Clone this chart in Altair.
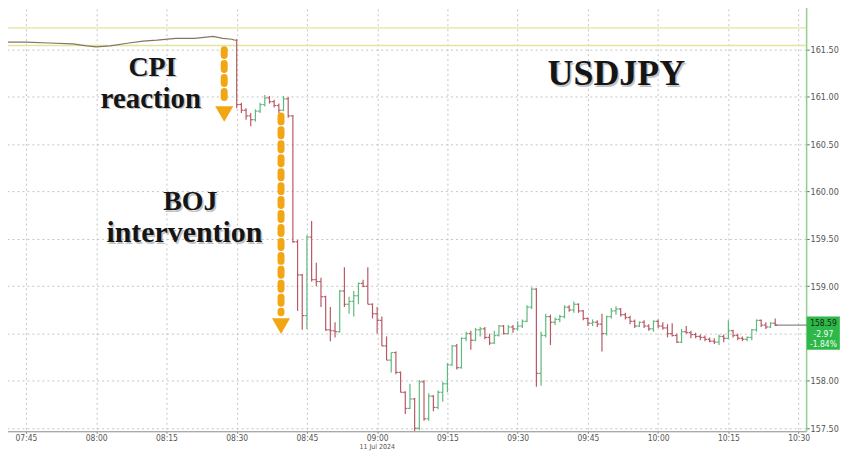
import altair as alt
import pandas as pd
import numpy as np

# ---------------- data ----------------
pre_times = ["07:40:06", "07:45", "07:50", "07:55", "07:58", "08:00", "08:03", "08:07", "08:10",
             "08:13", "08:17", "08:21", "08:25", "08:27", "08:29", "08:29:30"]
pre_prices = [161.58, 161.58, 161.57, 161.56, 161.54, 161.53, 161.54, 161.57, 161.59,
              161.60, 161.62, 161.62, 161.64, 161.62, 161.61, 161.60]

opens = [161.60, 160.92, 160.86, 160.80, 160.76, 160.85, 160.92, 160.99, 160.95, 160.91,
         160.86, 160.98, 160.80, 159.47, 159.12, 158.69, 159.52, 159.07, 159.05, 158.89,
         158.54, 158.53, 158.52, 158.95, 158.81, 158.84, 158.90, 159.03, 159.00, 158.81,
         158.71, 158.64, 158.37, 158.22, 158.30, 158.09, 157.88, 157.71, 157.81, 157.50,
         157.99, 157.60, 157.84, 157.72, 157.88, 157.97, 158.17, 158.37, 158.14, 158.45,
         158.50, 158.43, 158.54, 158.55, 158.46, 158.40, 158.48, 158.58, 158.50, 158.57,
         158.55, 158.58, 158.63, 158.78, 158.97, 158.08, 158.48, 158.68, 158.62, 158.65,
         158.68, 158.78, 158.75, 158.81, 158.74, 158.66, 158.61, 158.62, 158.60, 158.50,
         158.68, 158.74, 158.76, 158.70, 158.67, 158.63, 158.58, 158.62, 158.58, 158.55,
         158.63, 158.58, 158.56, 158.50, 158.48, 158.41, 158.52, 158.51, 158.49, 158.47,
         158.46, 158.44, 158.42, 158.41, 158.47, 158.45, 158.53, 158.48, 158.45, 158.44,
         158.46, 158.54, 158.64, 158.59, 158.57, 158.61]
highs = [161.61, 160.94, 160.88, 160.83, 160.87, 160.94, 161.02, 161.01, 160.97, 160.93,
         161.01, 161.00, 160.81, 159.49, 159.13, 159.54, 159.69, 159.25, 159.09, 158.90,
         158.78, 158.62, 158.96, 159.20, 158.89, 158.95, 159.04, 159.07, 159.20, 158.82,
         158.78, 158.68, 158.47, 158.30, 158.31, 158.10, 157.89, 157.97, 157.82, 158.01,
         158.01, 157.87, 157.85, 157.90, 157.99, 158.19, 158.38, 158.39, 158.46, 158.52,
         158.53, 158.56, 158.57, 158.57, 158.50, 158.53, 158.59, 158.59, 158.59, 158.59,
         158.63, 158.65, 158.80, 158.99, 158.98, 158.52, 158.71, 158.70, 158.67, 158.70,
         158.80, 158.80, 158.84, 158.82, 158.75, 158.67, 158.65, 158.64, 158.71, 158.69,
         158.77, 158.79, 158.77, 158.72, 158.69, 158.65, 158.63, 158.64, 158.60, 158.64,
         158.65, 158.62, 158.60, 158.61, 158.50, 158.55, 158.58, 158.53, 158.51, 158.49,
         158.48, 158.46, 158.45, 158.49, 158.49, 158.64, 158.54, 158.50, 158.47, 158.47,
         158.55, 158.65, 158.65, 158.62, 158.62, 158.66]
lows = [160.88, 160.83, 160.76, 160.69, 160.74, 160.83, 160.90, 160.93, 160.89, 160.83,
        160.85, 160.78, 159.46, 158.74, 158.54, 158.55, 159.05, 159.00, 158.78, 158.53,
        158.42, 158.46, 158.51, 158.78, 158.71, 158.68, 158.81, 158.99, 158.81, 158.66,
        158.50, 158.37, 158.22, 158.09, 158.07, 157.88, 157.65, 157.70, 157.47, 157.48,
        157.58, 157.58, 157.68, 157.70, 157.78, 157.88, 158.16, 158.12, 158.13, 158.42,
        158.33, 158.42, 158.47, 158.44, 158.38, 158.39, 158.47, 158.49, 158.49, 158.51,
        158.53, 158.56, 158.62, 158.76, 157.94, 157.95, 158.46, 158.38, 158.59, 158.62,
        158.66, 158.73, 158.72, 158.72, 158.64, 158.58, 158.58, 158.57, 158.31, 158.48,
        158.66, 158.70, 158.68, 158.65, 158.60, 158.56, 158.57, 158.56, 158.53, 158.52,
        158.56, 158.54, 158.46, 158.47, 158.40, 158.40, 158.50, 158.45, 158.45, 158.43,
        158.42, 158.41, 158.39, 158.38, 158.41, 158.44, 158.46, 158.43, 158.42, 158.42,
        158.43, 158.52, 158.57, 158.55, 158.56, 158.58]
closes = [160.92, 160.86, 160.80, 160.76, 160.85, 160.92, 160.99, 160.95, 160.91, 160.86,
          160.98, 160.80, 159.47, 159.12, 158.69, 159.52, 159.07, 159.05, 158.89, 158.54,
          158.53, 158.52, 158.95, 158.81, 158.84, 158.90, 159.03, 159.00, 158.81, 158.71,
          158.64, 158.37, 158.22, 158.30, 158.09, 157.88, 157.71, 157.81, 157.50, 157.99,
          157.60, 157.84, 157.72, 157.88, 157.97, 158.17, 158.37, 158.14, 158.45, 158.50,
          158.43, 158.54, 158.55, 158.46, 158.40, 158.48, 158.58, 158.50, 158.57, 158.55,
          158.58, 158.63, 158.78, 158.97, 158.08, 158.48, 158.68, 158.62, 158.65, 158.68,
          158.78, 158.75, 158.81, 158.74, 158.66, 158.61, 158.62, 158.60, 158.50, 158.68,
          158.74, 158.76, 158.70, 158.67, 158.63, 158.58, 158.62, 158.58, 158.55, 158.63,
          158.58, 158.56, 158.50, 158.48, 158.41, 158.52, 158.51, 158.49, 158.47, 158.46,
          158.44, 158.42, 158.41, 158.47, 158.45, 158.53, 158.48, 158.45, 158.44, 158.46,
          158.54, 158.64, 158.59, 158.57, 158.61, 158.59]

band_levels = [161.73, 161.545]
last_price = "158.59"
last_change = "-2.97"
last_pct = "-1.84%"
y_tick_values = [157.5, 158.0, 158.5, 159.0, 159.5, 160.0, 160.5, 161.0, 161.5]
x_tick_labels = ["07:45", "08:00", "08:15", "08:30", "08:45", "09:00", "09:15",
                 "09:30", "09:45", "10:00", "10:15", "10:30"]
date_label = "11 Jul 2024"

# ---------------- build tables ----------------
DAY = "2024-07-11T"
def ts(s):
    return pd.Timestamp(DAY + s)

pre_df = pd.DataFrame({"t": [ts(s) for s in pre_times], "p": pre_prices})

base = ts("08:30")
df = pd.DataFrame({"o": opens, "h": highs, "l": lows, "c": closes})
df["t"] = [base + pd.Timedelta(minutes=i) for i in range(len(df))]
df["t0"] = df["t"] - pd.Timedelta(seconds=27)
df["t1"] = df["t"] + pd.Timedelta(seconds=27)
df["dir"] = np.where(df["c"] >= df["o"], "up", "down")

W, H = 806, 434
x_start = alt.DateTime(year=2024, month=7, date=11, hours=7, minutes=40, seconds=6)
x_end = alt.DateTime(year=2024, month=7, date=11, hours=10, minutes=31, seconds=36)
x_scale = alt.Scale(domain=[x_start, x_end], nice=False)
y_scale = alt.Scale(domain=[157.4684, 162.0368], nice=False, zero=False)

x_vals = [alt.DateTime(year=2024, month=7, date=11, hours=int(s[:2]), minutes=int(s[3:]))
          for s in x_tick_labels]

AXFONT = "DejaVu Sans Condensed, Liberation Sans Narrow, sans-serif"
x_axis = alt.Axis(values=x_vals, format="%H:%M", title=None, grid=True, gridDash=[2, 3],
                  gridColor="#c4c4c4", domainColor="#8a8a8a", tickColor="#8a8a8a", tickSize=2,
                  labelFont=AXFONT, labelFontSize=8.5, labelColor="#555", labelPadding=0)
y_axis = alt.Axis(values=y_tick_values, orient="right", title=None, grid=True, gridDash=[2, 3],
                  gridColor="#c4c4c4", domainColor="#8fd08f", domainWidth=1.5, tickColor="#666",
                  tickSize=3, labelFont=AXFONT, labelFontSize=9, labelColor="#555",
                  labelPadding=1,
                  labelExpr="datum.value == 158.5 ? '' : format(datum.value, '.2f')")

def X(field):
    return alt.X(field, type="temporal", scale=x_scale, axis=x_axis)

def Y(field):
    return alt.Y(field, type="quantitative", scale=y_scale, axis=y_axis)

color = alt.Color("dir:N", scale=alt.Scale(domain=["up", "down"], range=["#5fba7d", "#b85a66"]),
                  legend=None)

bands = alt.Chart(pd.DataFrame({"p": band_levels})).mark_rule(
    color="#e4e49a", strokeWidth=1.5).encode(y=Y("p"))

pre_line = alt.Chart(pre_df).mark_line(color="#867462", strokeWidth=1.2).encode(
    x=X("t"), y=Y("p"))

wicks = alt.Chart(df).mark_rule(strokeWidth=1.2).encode(
    x=X("t"), y=Y("l"), y2="h", color=color)
open_ticks = alt.Chart(df).mark_rule(strokeWidth=1.2).encode(
    x=X("t0"), x2="t", y=Y("o"), color=color)
close_ticks = alt.Chart(df).mark_rule(strokeWidth=1.2).encode(
    x=X("t"), x2="t1", y=Y("c"), color=color)

last_df = pd.DataFrame({"t": [df["t"].iloc[-1]], "t2": [ts("10:31:50")], "p": [closes[-1]]})
last_line = alt.Chart(last_df).mark_rule(color="#6a6a6a", strokeWidth=1).encode(
    x=X("t"), x2="t2", y=Y("p"))

# arrows (time, start price, end of shaft, arrow head)
arrow_df = pd.DataFrame({
    "t": [ts("08:27:20"), ts("08:39:28")],
    "p0": [161.50, 160.80],
    "p1": [160.93, 158.72],
    "head": [160.82, 158.58],
})
shafts = alt.Chart(arrow_df).mark_rule(color="#f2a614", strokeWidth=7, strokeDash=[6, 8],
                                       strokeCap="round").encode(
    x=X("t"), y=Y("p0"), y2="p1")
heads = alt.Chart(arrow_df).mark_point(shape="triangle-down", filled=True, size=330,
                                       color="#f2a614", opacity=1).encode(
    x=X("t"), y=Y("head"))

ann_df = pd.DataFrame({
    "t": [ts("08:12:00"), ts("08:11:40"), ts("08:20:06"), ts("08:18:50"), ts("09:51:04")],
    "p": [161.31, 160.98, 159.89, 159.56, 161.24],
    "label": ["CPI", "reaction", "BOJ", "intervention", "USDJPY"],
    "size": [28, 29, 28, 30, 36],
})
TFONT = "Liberation Serif"
shadow = alt.Chart(ann_df).mark_text(font=TFONT, fontWeight="bold", color="#8a8a8a",
                                     opacity=0.5, dx=1.5, dy=1.5, baseline="middle",
                                     align="center").encode(
    x=X("t"), y=Y("p"), text="label:N", size=alt.Size("size:Q", scale=None, legend=None))
texts = alt.Chart(ann_df).mark_text(font=TFONT, fontWeight="bold", color="#151515",
                                    baseline="middle", align="center").encode(
    x=X("t"), y=Y("p"), text="label:N", size=alt.Size("size:Q", scale=None, legend=None))

box_df = pd.DataFrame({"t": [ts("10:31:45")], "t2": [ts("10:38:48")],
                       "p0": [158.68], "p1": [158.33]})
box = alt.Chart(box_df).mark_rect(color="#2fb84a", clip=False).encode(
    x=X("t"), x2="t2", y=Y("p0"), y2="p1")
box_txt_df = pd.DataFrame({"t": [ts("10:35:18")] * 3, "p": [158.61, 158.50, 158.39],
                           "label": [last_price, last_change, last_pct],
                           "col": ["#0d2a0d", "#f2fff2", "#f2fff2"]})
box_txt = alt.Chart(box_txt_df).mark_text(font=AXFONT, fontSize=8.5, baseline="middle",
                                          align="center", clip=False).encode(
    x=X("t"), y=Y("p"), text="label:N", color=alt.Color("col:N", scale=None, legend=None))

date_df = pd.DataFrame({"t": [ts("09:00:00")], "label": [date_label]})
date_txt = alt.Chart(date_df).mark_text(font=AXFONT, fontSize=7, color="#555",
                                        baseline="middle", align="center", clip=False).encode(
    x=X("t"), y=alt.value(H + 15.5), text="label:N")

chart = alt.layer(bands, wicks, pre_line, open_ticks, close_ticks, last_line, shafts, heads,
                  shadow, texts, box, box_txt, date_txt).properties(
    width=W, height=H, background="white",
    padding={"left": -8, "top": -10, "right": 0, "bottom": 0}
).configure_view(stroke=None)

chart.save("out.html", embed_options={"renderer": "svg", "actions": False})
